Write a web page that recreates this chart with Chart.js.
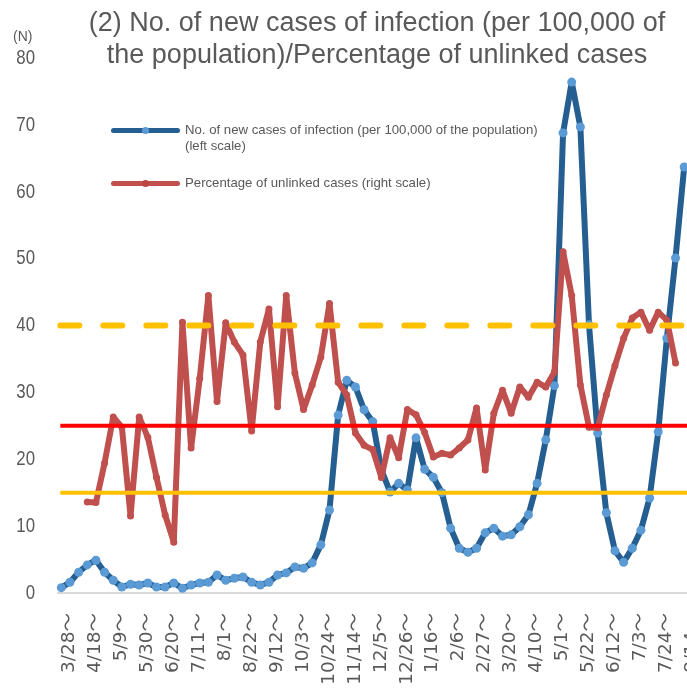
<!DOCTYPE html>
<html>
<head>
<meta charset="utf-8">
<script src="https://cdn.jsdelivr.net/npm/chart.js@4.4.1/dist/chart.umd.min.js"></script>
<style>
  body { margin: 0; overflow: hidden; background: #fff; }
  #wrap { position: relative; width: 700px; height: 691px; }
  #chart { position: absolute; left: 0; top: 0; }
  .txt { position: absolute; color: #595959; font-family: 'Liberation Sans', Arial, sans-serif; white-space: nowrap; }
  #title { left: 0; top: 6px; width: 754px; text-align: center; font-size: 27px; line-height: 32px; }
  #unit { left: 13px; top: 28px; font-size: 14px; }
  .swatch { position: absolute; left: 111px; width: 69px; height: 5px; border-radius: 3px; }
  .dot { position: absolute; width: 7px; height: 7px; border-radius: 50%; }
  .legtext { left: 185px; font-size: 13.2px; line-height: 16px; }
</style>
</head>
<body>
<div id="wrap">
  <canvas id="chart" width="693" height="691"></canvas>
  <div id="title" class="txt">(2) No. of new cases of infection (per 100,000 of<br>the population)/Percentage of unlinked cases</div>
  <div id="unit" class="txt">(N)</div>
  <div class="swatch" style="top:128px;background:#255e91"></div>
  <div class="dot" style="left:142px;top:127px;background:#5b9bd5"></div>
  <div class="txt legtext" style="top:122px">No. of new cases of infection (per 100,000 of the population)<br>(left scale)</div>
  <div class="swatch" style="top:181px;background:#c0504d"></div>
  <div class="dot" style="left:142px;top:180px;background:#b94643"></div>
  <div class="txt legtext" style="top:175px">Percentage of unlinked cases (right scale)</div>
</div>
<script>
'use strict';

// weekly periods, 2020/3/28 - 2021/8/14
const weeks = [
  '3/28', '4/4', '4/11', '4/18', '4/25', '5/2', '5/9', '5/16', '5/23', '5/30',
  '6/6', '6/13', '6/20', '6/27', '7/4', '7/11', '7/18', '7/25', '8/1', '8/8',
  '8/15', '8/22', '8/29', '9/5', '9/12', '9/19', '9/26', '10/3', '10/10', '10/17',
  '10/24', '10/31', '11/7', '11/14', '11/21', '11/28', '12/5', '12/12', '12/19', '12/26',
  '1/2', '1/9', '1/16', '1/23', '1/30', '2/6', '2/13', '2/20', '2/27', '3/6',
  '3/13', '3/20', '3/27', '4/3', '4/10', '4/17', '4/24', '5/1', '5/8', '5/15',
  '5/22', '5/29', '6/5', '6/12', '6/19', '6/26', '7/3', '7/10', '7/17', '7/24',
  '7/31', '8/7', '8/14'
];

// new cases per 100,000 (left scale)
const newCases = [
  0.8, 1.6, 3.1, 4.2, 4.9, 3.1, 1.9, 0.9, 1.3, 1.2,
  1.5, 0.9, 0.9, 1.5, 0.7, 1.2, 1.5, 1.6, 2.7, 1.9,
  2.2, 2.4, 1.6, 1.2, 1.6, 2.7, 3.0, 3.9, 3.7, 4.5,
  7.2, 12.4, 26.6, 31.8, 30.8, 27.4, 25.6, 18.4, 15.1, 16.4,
  15.4, 23.2, 18.5, 17.3, 15.0, 9.7, 6.7, 6.1, 6.7, 9.0,
  9.7, 8.5, 8.7, 9.9, 11.7, 16.4, 22.9, 31.0, 68.8, 76.4,
  69.7, 40.1, 23.9, 12.0, 6.3, 4.6, 6.7, 9.4, 14.2, 24.1,
  38.1, 50.1, 63.7
];

// percentage of unlinked cases (right scale, %)
const unlinkedPct = [
  null, null, null, 17.0, 16.9, 24.3, 32.9, 31.0, 14.4, 32.9,
  29.1, 21.6, 14.6, 9.5, 50.6, 27.1, 40.1, 55.6, 35.8, 50.5,
  46.9, 44.5, 30.3, 46.9, 53.1, 34.8, 55.6, 41.1, 34.3, 38.9,
  44.1, 54.1, 39.4, 37.0, 29.9, 27.6, 26.8, 21.6, 29.0, 25.3,
  34.3, 33.3, 30.0, 25.4, 26.1, 25.8, 27.1, 28.6, 34.6, 23.0,
  33.6, 37.9, 33.6, 38.5, 36.6, 39.4, 38.5, 41.3, 63.8, 55.6,
  38.9, 31.0, 30.9, 37.0, 42.5, 47.6, 51.4, 52.5, 49.1, 52.5,
  51.0, 43.0, null
];

// reference levels on the left scale
const stage3Level = 15;
const stage4Level = 25;
const unlinkedLevel = 40;

const grey = '#595959';

const refLines = {
  id: 'refLines',
  afterDatasetsDraw(chart) {
    const { ctx, scales } = chart;
    const x0 = scales.x.getPixelForValue(0) - 1;
    const x1 = chart.width;
    const draw = (v, color, width, dash) => {
      const y = scales.y.getPixelForValue(v);
      ctx.save();
      ctx.strokeStyle = color;
      ctx.lineWidth = width;
      ctx.setLineDash(dash);
      ctx.lineCap = dash.length ? 'round' : 'butt';
      ctx.beginPath();
      ctx.moveTo(x0, y);
      ctx.lineTo(x1, y);
      ctx.stroke();
      ctx.restore();
    };
    draw(stage3Level, '#ffc000', 4, []);
    draw(stage4Level, '#ff0000', 4, []);
    draw(unlinkedLevel, '#ffc000', 6, [19, 24]);
  }
};

// left axis numbers, drawn a little condensed like the original
const narrowTicks = {
  id: 'narrowTicks',
  afterDraw(chart) {
    const { ctx } = chart;
    const yScale = chart.scales.y;
    ctx.save();
    ctx.fillStyle = grey;
    ctx.font = "21px 'Liberation Sans', Arial, sans-serif";
    ctx.textAlign = 'right';
    ctx.textBaseline = 'middle';
    yScale.ticks.forEach(t => {
      const y = yScale.getPixelForValue(t.value);
      ctx.save();
      ctx.translate(35, y);
      ctx.scale(0.8, 1);
      ctx.fillText(String(t.value), 0, 0);
      ctx.restore();
    });
    ctx.restore();
  }
};

function renderChart() {
  const data = {
    labels: weeks.map(w => w + '～'),
    datasets: [
      {
        label: 'Percentage of unlinked cases (right scale)',
        data: unlinkedPct,
        yAxisID: 'y2',
        borderColor: '#c0504d',
        backgroundColor: '#c0504d',
        borderWidth: 6,
        pointRadius: 3.5,
        pointBorderWidth: 0,
        pointBackgroundColor: '#c0504d',
        borderJoinStyle: 'round',
        order: 0
      },
      {
        label: 'No. of new cases of infection (per 100,000 of the population) (left scale)',
        data: newCases,
        yAxisID: 'y',
        borderColor: '#255e91',
        backgroundColor: '#5b9bd5',
        borderWidth: 6,
        pointRadius: 4.5,
        pointBorderWidth: 0,
        pointBackgroundColor: '#5b9bd5',
        borderJoinStyle: 'round',
        order: 1
      }
    ]
  };

  const config = {
    type: 'line',
    data: data,
    options: {
      responsive: false,
      animation: false,
      layout: { padding: { top: 58, right: 0, bottom: 0, left: 0 } },
      plugins: {
        legend: { display: false },
        title: { display: false },
        tooltip: { enabled: false }
      },
      scales: {
        x: {
          type: 'category',
          offset: true,
          afterFit: scale => {
            scale.height = 98;
            scale.paddingLeft = 0;
            scale.paddingRight = 0;
          },
          grid: { display: false, drawTicks: false },
          border: { display: false },
          ticks: {
            autoSkip: false,
            minRotation: 90,
            maxRotation: 90,
            padding: 20,
            labelOffset: 8,
            color: grey,
            font: { family: "'DejaVu Sans', 'Noto Sans CJK JP', sans-serif", size: 18.5 },
            callback: function (value, index) {
              return index % 3 === 0 ? this.getLabelForValue(value) : '';
            }
          }
        },
        y: {
          position: 'left',
          min: 0,
          max: 80,
          afterFit: scale => { scale.width = 57; },
          border: { display: false },
          grid: {
            drawTicks: false,
            lineWidth: 2,
            color: ctx => (ctx.tick && ctx.tick.value === 0 ? '#d9d9d9' : 'rgba(0,0,0,0)')
          },
          ticks: { display: false, stepSize: 10 }
        },
        y2: {
          position: 'right',
          display: false,
          min: 0,
          max: 100
        }
      }
    },
    plugins: [refLines, narrowTicks]
  };

  let canvasElem = document.getElementById('chart');
  if (canvasElem) {
    new Chart(canvasElem, config);
  }
}

document.addEventListener('DOMContentLoaded', renderChart);
</script>
</body>
</html>
